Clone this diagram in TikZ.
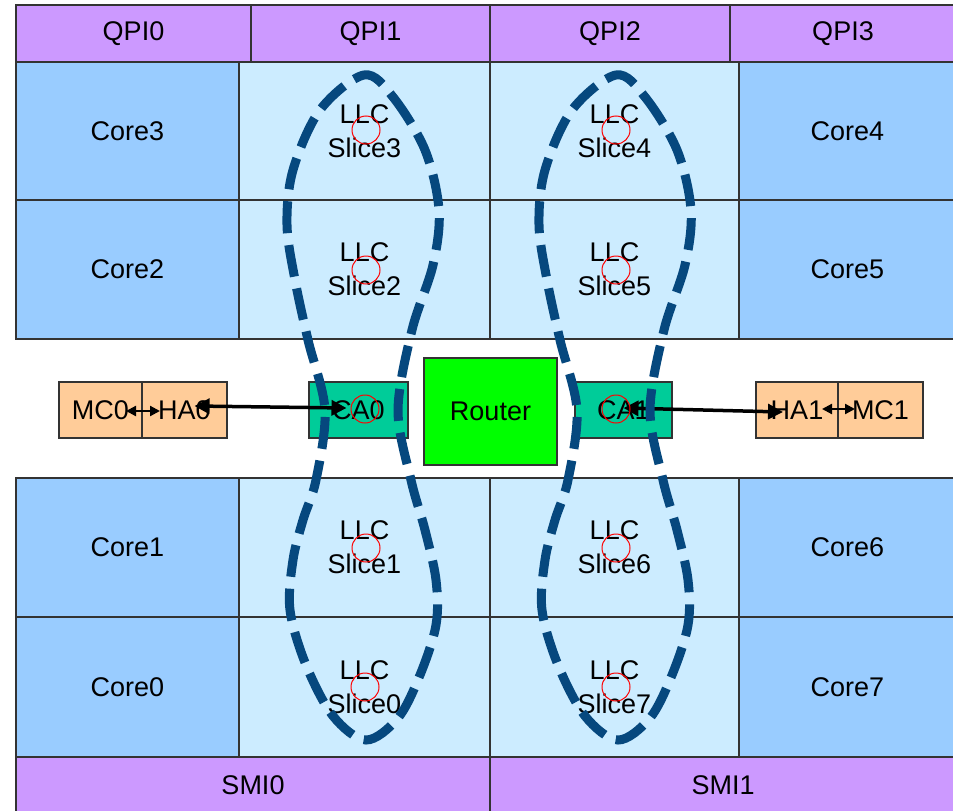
\documentclass[tikz,border=0pt]{standalone}
\usepackage{fontspec}
\setmainfont{Liberation Sans}
\usetikzlibrary{arrows.meta}
\definecolor{coreblue}{HTML}{99CCFF}
\definecolor{llcblue}{HTML}{CCECFF}
\definecolor{qpipurple}{HTML}{CC99FF}
\definecolor{mcorange}{HTML}{FFCC99}
\definecolor{cagreen}{HTML}{00CC99}
\definecolor{routergreen}{HTML}{00FF00}
\definecolor{ringblue}{RGB}{6,72,126}
\definecolor{edgegray}{HTML}{333333}
\begin{document}
\begin{tikzpicture}[x=1pt,y=-1pt,
  box/.style={draw=edgegray, line width=1.3pt, inner sep=0pt, outer sep=0pt,
    font=\fontsize{27}{34}\selectfont, align=center, text=black},
  qpi/.style={box, fill=qpipurple, minimum height=57pt},
  core/.style={box, fill=coreblue, minimum width=223pt},
  llcL/.style={box, fill=llcblue, minimum width=251pt},
  llcR/.style={box, fill=llcblue, minimum width=249pt},
  coreR/.style={box, fill=coreblue, minimum width=217pt},
  unit/.style={box, fill=mcorange, minimum height=56pt},
  ca/.style={box, fill=cagreen, minimum height=56pt},
  rc/.style={draw=red, line width=1pt, circle, minimum size=28pt, inner sep=0pt},
  ring/.style={draw=ringblue, line width=9pt, dash pattern=on 32pt off 12pt},
  bigarrow/.style={line width=3.5pt, {Triangle[length=15pt,width=15pt]}-{Triangle[length=15pt,width=15pt]}},
  smallarrow/.style={line width=2.2pt, {Triangle[length=10pt,width=10pt]}-{Triangle[length=10pt,width=10pt]}}
]
\useasboundingbox (0,0) rectangle (953,811);
\fill[white] (0,0) rectangle (953,811);

% QPI row
\node[qpi, minimum width=235pt] (qpi0) at (133.5,33.5) {QPI0};
\node[qpi, minimum width=239pt] (qpi1) at (370.5,33.5) {QPI1};
\node[qpi, minimum width=240pt] (qpi2) at (610,33.5) {QPI2};
\node[qpi, minimum width=226pt] (qpi3) at (843,33.5) {QPI3};

% upper rows
\node[core, minimum height=138pt] (core3) at (127.5,131) {Core3};
\node[core, minimum height=139pt] (core2) at (127.5,269.5) {Core2};
\node[llcL, minimum height=138pt] (llc3) at (364.5,131) {LLC\\Slice3};
\node[llcL, minimum height=139pt] (llc2) at (364.5,269.5) {LLC\\Slice2};
\node[llcR, minimum height=138pt] (llc4) at (614.5,131) {LLC\\Slice4};
\node[llcR, minimum height=139pt] (llc5) at (614.5,269.5) {LLC\\Slice5};
\node[coreR, minimum height=138pt] (core4) at (847.5,131) {Core4};
\node[coreR, minimum height=139pt] (core5) at (847.5,269.5) {Core5};

% lower rows
\node[core, minimum height=139pt] (core1) at (127.5,547.5) {Core1};
\node[core, minimum height=140pt] (core0) at (127.5,687) {Core0};
\node[llcL, minimum height=139pt] (llc1) at (364.5,547.5) {LLC\\Slice1};
\node[llcL, minimum height=140pt] (llc0) at (364.5,687) {LLC\\Slice0};
\node[llcR, minimum height=139pt] (llc6) at (614.5,547.5) {LLC\\Slice6};
\node[llcR, minimum height=140pt] (llc7) at (614.5,687) {LLC\\Slice7};
\node[coreR, minimum height=139pt] (core6) at (847.5,547.5) {Core6};
\node[coreR, minimum height=140pt] (core7) at (847.5,687) {Core7};

% SMI row
\node[qpi, minimum width=474pt] (smi0) at (253,785.5) {SMI0};
\node[qpi, minimum width=466pt] (smi1) at (723,785.5) {SMI1};

% middle band
\node[unit, minimum width=83pt] (mc0) at (100.5,410) {MC0};
\node[unit, minimum width=85pt] (ha0) at (184.5,410) {HA0};
\node[ca, minimum width=99pt] (ca0) at (358.5,410) {CA0};
\node[box, fill=routergreen, minimum width=133pt, minimum height=107pt] (router) at (490.5,411.5) {Router};
\node[ca, minimum width=97pt] (ca1) at (623.5,410) {CA1};
\node[unit, minimum width=82pt] (ha1) at (797,410) {HA1};
\node[unit, minimum width=85pt] (mc1) at (880.5,410) {MC1};

% connectors
\draw[smallarrow] ([xshift=-16pt,yshift=-1pt]mc0.east) -- ([xshift=18pt,yshift=-1pt]mc0.east);
\draw[bigarrow] ([xshift=10pt,yshift=4pt]ha0.center) -- ([xshift=-12pt,yshift=2pt]ca0.center);
\draw[bigarrow] ([yshift=2pt]ca1.center) -- ([xshift=-14pt,yshift=-2pt]ha1.center);
\draw[smallarrow] ([xshift=-16pt,yshift=1pt]ha1.east) -- ([xshift=17pt,yshift=1pt]ha1.east);

% rings
\def\ringpath{plot[smooth cycle, tension=0.55] coordinates {
 (364,75) (393,97) (425,150) (439,210) (433,265) (412,330) (398,410) (411,480)
 (425,530) (436,580) (436,625) (420,675) (398,718) (366,740) (333,716) (306,665)
 (290,610) (293,560) (303,520) (316,480) (325,410) (308,340) (295,280) (287,225)
 (293,170) (320,110)}}
\draw[ring] \ringpath;
\begin{scope}[xshift=252pt]
\draw[ring] \ringpath;
\end{scope}

% red circles
\node[rc] (r3) at (366,130) {};
\node[rc] (r2) at (366,270) {};
\node[rc] (r1) at (366,548) {};
\node[rc] (r0) at (365,687) {};
\node[rc] (r4) at (616,130) {};
\node[rc] (r5) at (616,270) {};
\node[rc] (r6) at (616,548) {};
\node[rc] (r7) at (616,687) {};
\node[rc] (rca0) at (365,409) {};
\node[rc] (rca1) at (616,409) {};
\end{tikzpicture}
\end{document}
